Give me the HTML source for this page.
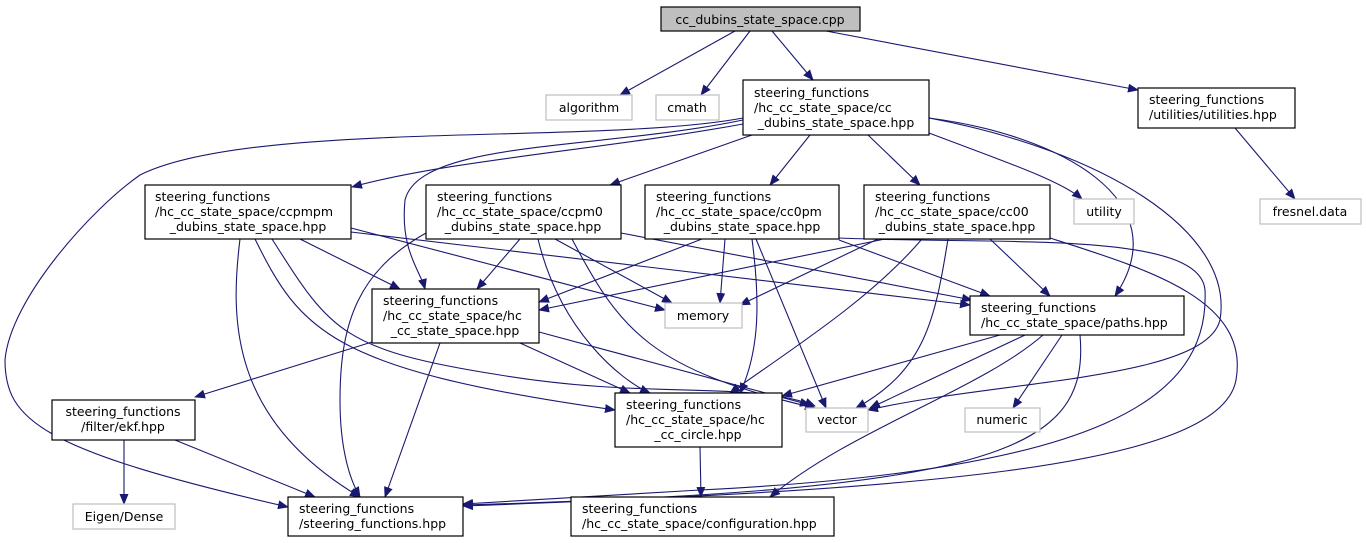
<!DOCTYPE html>
<html><head><meta charset="utf-8"><style>
html,body{margin:0;padding:0;background:#fff;}
svg{display:block;}
text{font-family:"DejaVu Sans","Liberation Sans",sans-serif;font-size:12.5px;fill:#000;}
.n{fill:#fff;stroke:#000;stroke-width:1.2;}
.g{fill:#fff;stroke:#bfbfbf;stroke-width:1.2;}
.e{fill:none;stroke:#191970;stroke-width:1.1;}
</style></head><body>
<svg width="1366" height="543" viewBox="0 0 1366 543" xmlns="http://www.w3.org/2000/svg">
<defs><marker id="a" markerWidth="11" markerHeight="9" refX="10" refY="4.5" orient="auto" markerUnits="userSpaceOnUse"><path d="M0,0 L11,4.5 L0,9 z" fill="#191970"/></marker></defs>
<g class="e" marker-end="url(#a)">
<path d="M735,31 L620,95"/>
<path d="M750,31 L701,95"/>
<path d="M772,31 L813,80"/>
<path d="M826,31 L1138,90"/>
<path d="M743,124 C600,150 450,160 352,187"/>
<path d="M752,135 L610,185"/>
<path d="M810,135 L770,185"/>
<path d="M868,135 L920,185"/>
<path d="M929,133 C1000,160 1060,180 1082,199"/>
<path d="M929,118 C1060,135 1180,200 1115,296"/>
<path d="M743,118 C600,145 250,120 140,175 C90,210 10,300 5,360 C5,420 40,450 288,507"/>
<path d="M743,120 C600,150 420,140 405,200 C400,250 420,270 425,289"/>
<path d="M929,118 C1100,150 1235,230 1220,320 C1205,380 1000,380 868,410"/>
<path d="M1235,128 L1295,199"/>
<path d="M300,239 L400,289"/>
<path d="M351,228 L665,310"/>
<path d="M351,232 L970,305"/>
<path d="M240,239 C230,320 230,420 360,497"/>
<path d="M255,239 C300,330 330,370 615,410"/>
<path d="M272,239 C330,330 340,350 500,375 C650,400 750,380 815,406"/>
<path d="M520,239 L477,289"/>
<path d="M555,239 L672,303"/>
<path d="M621,233 L972,300"/>
<path d="M538,239 C560,330 620,380 650,393"/>
<path d="M572,239 C620,330 650,370 815,408"/>
<path d="M426,233 C360,270 340,320 340,400 C340,450 350,480 360,497"/>
<path d="M702,239 L539,302"/>
<path d="M725,239 L720,303"/>
<path d="M839,240 L990,296"/>
<path d="M752,239 C760,300 760,350 740,393"/>
<path d="M756,239 L826,408"/>
<path d="M839,238 C1000,245 1200,230 1205,290 C1210,400 1100,470 700,490 L463,504"/>
<path d="M885,239 L539,310"/>
<path d="M878,239 L740,305"/>
<path d="M990,239 L1050,296"/>
<path d="M922,239 C870,300 790,350 730,393"/>
<path d="M948,239 C935,320 925,370 856,408"/>
<path d="M1050,238 C1150,270 1250,300 1236,380 C1220,470 900,490 463,506"/>
<path d="M372,342 L195,397"/>
<path d="M440,343 L385,497"/>
<path d="M520,343 L630,393"/>
<path d="M539,332 L810,405"/>
<path d="M1000,335 L782,396"/>
<path d="M1025,335 L870,408"/>
<path d="M1062,335 L1013,408"/>
<path d="M1043,335 C980,390 850,430 770,497"/>
<path d="M1080,335 C1090,450 1000,490 463,505"/>
<path d="M124,440 L124,504"/>
<path d="M175,440 L315,497"/>
<path d="M700,447 L701,497"/>
</g>
<rect x="661" y="7" width="199" height="24" fill="#bfbfbf" stroke="#000" stroke-width="1.2"/>
<text x="760" y="24" text-anchor="middle">cc_dubins_state_space.cpp</text>
<rect class="g" x="546" y="95" width="86" height="25"/><text x="589" y="112" text-anchor="middle">algorithm</text>
<rect class="g" x="656" y="95" width="63" height="25"/><text x="687" y="112" text-anchor="middle">cmath</text>
<rect class="n" x="743" y="80" width="186" height="55"/>
<text x="754" y="97">steering_functions</text><text x="754" y="112">/hc_cc_state_space/cc</text><text x="836" y="127" text-anchor="middle">_dubins_state_space.hpp</text>
<rect class="n" x="1138" y="88" width="157" height="40"/>
<text x="1149" y="104">steering_functions</text><text x="1149" y="119">/utilities/utilities.hpp</text>
<rect class="n" x="145" y="185" width="206" height="54"/>
<text x="155" y="201">steering_functions</text><text x="155" y="216">/hc_cc_state_space/ccpmpm</text><text x="248" y="231" text-anchor="middle">_dubins_state_space.hpp</text>
<rect class="n" x="426" y="185" width="195" height="54"/>
<text x="437" y="201">steering_functions</text><text x="437" y="216">/hc_cc_state_space/ccpm0</text><text x="523" y="231" text-anchor="middle">_dubins_state_space.hpp</text>
<rect class="n" x="645" y="185" width="194" height="54"/>
<text x="656" y="201">steering_functions</text><text x="656" y="216">/hc_cc_state_space/cc0pm</text><text x="742" y="231" text-anchor="middle">_dubins_state_space.hpp</text>
<rect class="n" x="864" y="185" width="186" height="54"/>
<text x="875" y="201">steering_functions</text><text x="875" y="216">/hc_cc_state_space/cc00</text><text x="957" y="231" text-anchor="middle">_dubins_state_space.hpp</text>
<rect class="g" x="1074" y="199" width="60" height="25"/><text x="1104" y="216" text-anchor="middle">utility</text>
<rect class="g" x="1260" y="199" width="101" height="25"/><text x="1310" y="216" text-anchor="middle">fresnel.data</text>
<rect class="n" x="372" y="289" width="167" height="54"/>
<text x="383" y="305">steering_functions</text><text x="383" y="320">/hc_cc_state_space/hc</text><text x="455" y="335" text-anchor="middle">_cc_state_space.hpp</text>
<rect class="g" x="665" y="303" width="77" height="25"/><text x="703" y="320" text-anchor="middle">memory</text>
<rect class="n" x="970" y="296" width="214" height="39"/>
<text x="981" y="312">steering_functions</text><text x="981" y="327">/hc_cc_state_space/paths.hpp</text>
<rect class="n" x="52" y="400" width="143" height="40"/>
<text x="123" y="416" text-anchor="middle">steering_functions</text><text x="123" y="431" text-anchor="middle">/filter/ekf.hpp</text>
<rect class="n" x="615" y="393" width="167" height="54"/>
<text x="626" y="409">steering_functions</text><text x="626" y="424">/hc_cc_state_space/hc</text><text x="698" y="439" text-anchor="middle">_cc_circle.hpp</text>
<rect class="g" x="806" y="408" width="62" height="24"/><text x="837" y="424" text-anchor="middle">vector</text>
<rect class="g" x="965" y="408" width="75" height="24"/><text x="1002" y="424" text-anchor="middle">numeric</text>
<rect class="g" x="73" y="504" width="102" height="25"/><text x="124" y="521" text-anchor="middle">Eigen/Dense</text>
<rect class="n" x="288" y="497" width="175" height="39"/>
<text x="299" y="513">steering_functions</text><text x="299" y="528">/steering_functions.hpp</text>
<rect class="n" x="571" y="497" width="263" height="39"/>
<text x="582" y="513">steering_functions</text><text x="582" y="528">/hc_cc_state_space/configuration.hpp</text>
</svg>
</body></html>
